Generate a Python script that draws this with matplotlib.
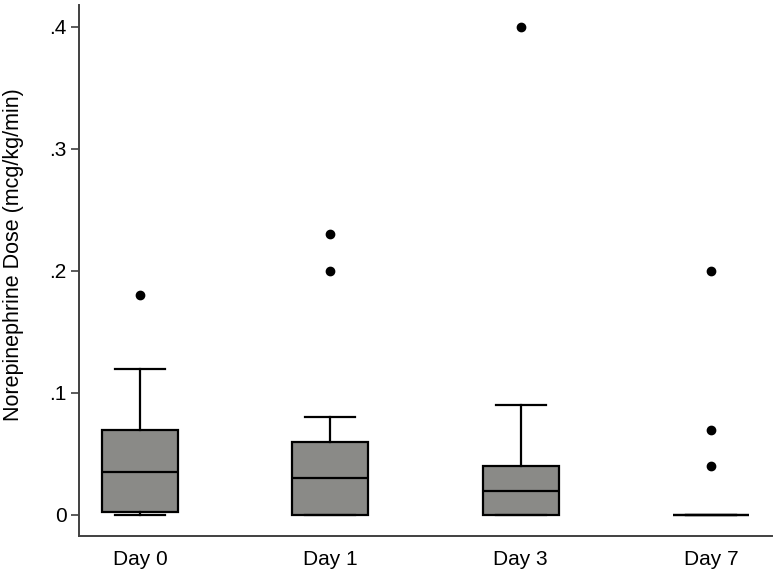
import matplotlib.pyplot as plt

plt.rcParams['font.family'] = ['Liberation Sans', 'DejaVu Sans']

days = ['Day 0', 'Day 1', 'Day 3', 'Day 7']
whislo = [0.0, 0.0, 0.0, 0.0]
q1 = [0.0025, 0.0, 0.0, 0.0]
med = [0.035, 0.03, 0.02, 0.0]
q3 = [0.07, 0.06, 0.04, 0.0]
whishi = [0.12, 0.08, 0.09, 0.0]
fliers = [[0.18], [0.2, 0.23], [0.4], [0.04, 0.07, 0.2]]

stats = []
for i, d in enumerate(days):
    stats.append(dict(label=d, whislo=whislo[i], q1=q1[i], med=med[i],
                      q3=q3[i], whishi=whishi[i], fliers=fliers[i]))

fig = plt.figure(figsize=(7.76, 5.75), dpi=100)
ax = fig.add_axes([0.1018, 0.0683, 0.893, 0.923])

lw = 1.6
ax.bxp(stats, positions=[1, 2, 3, 4], widths=0.40, patch_artist=True,
       boxprops=dict(facecolor='#8a8a87', edgecolor='black', linewidth=lw),
       medianprops=dict(color='black', linewidth=lw),
       whiskerprops=dict(color='black', linewidth=lw),
       capprops=dict(color='black', linewidth=lw),
       capwidths=0.263,
       flierprops=dict(marker='o', markerfacecolor='black',
                       markeredgecolor='black', markersize=6))

ax.set_xlim(0.68, 4.32)
ax.set_ylim(-0.017, 0.418)
ax.set_yticks([0, 0.1, 0.2, 0.3, 0.4])
ax.set_yticklabels(['0', '.1', '.2', '.3', '.4'])
ax.set_ylabel('Norepinephrine Dose (mcg/kg/min)', fontsize=15.5)
ax.yaxis.set_label_coords(-0.079, 0.529)

for s in ['top', 'right']:
    ax.spines[s].set_visible(False)
for s in ['left', 'bottom']:
    ax.spines[s].set_color('#404040')
    ax.spines[s].set_linewidth(1.4)

ax.tick_params(axis='y', labelsize=15, length=6, width=1.2, color='#404040', pad=3)
ax.tick_params(axis='x', labelsize=15, length=0, pad=10)

fig.savefig('out.png', dpi=100)
